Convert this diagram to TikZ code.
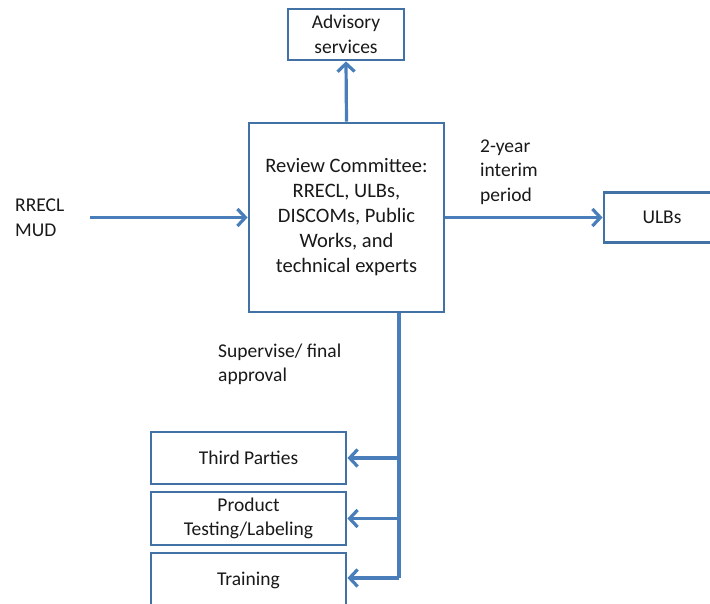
\documentclass[tikz,border=0pt]{standalone}
\usepackage{fontspec}
\setmainfont{Carlito}
\usetikzlibrary{arrows.meta}
\definecolor{boxline}{RGB}{65,113,165}
\definecolor{arrline}{RGB}{74,126,187}
\definecolor{txt}{RGB}{25,25,25}
\begin{document}
\begin{tikzpicture}[x=1pt,y=-1pt,
  every node/.style={font=\fontsize{19.5}{24.5}\selectfont, text=txt},
  box/.style={draw=boxline, line width=2.8pt, fill=white, inner sep=0pt, align=center},
  conn/.style={draw=arrline, line width=3.2pt, -{Straight Barb[length=8pt,width=17pt,line width=3.2pt]}},
  plainconn/.style={draw=arrline, line width=3.2pt},
  lbl/.style={align=left, inner sep=0pt, anchor=west}]
\useasboundingbox (0,0) rectangle (710,604);
\node[box, minimum width=116pt, minimum height=51pt] (adv) at (346,34.5) {Advisory\\services};
\node[box, minimum width=195pt, minimum height=189pt, font=\fontsize{20.5}{25}\selectfont] (main) at (346.5,217.5) {Review Committee:\\RRECL, ULBs,\\DISCOMs, Public\\Works, and\\technical experts};
\node[box, minimum width=116pt, minimum height=50pt] (ulb) at (662,217.5) {ULBs};
\node[box, minimum width=195pt, minimum height=52pt] (third) at (248.5,458) {Third Parties};
\node[box, minimum width=195pt, minimum height=53pt] (prod) at (248.5,518.5) {Product\\Testing/Labeling};
\node[box, minimum width=195pt, minimum height=54pt] (train) at (248.5,580) {Training};
\node[lbl] (src) at (15,217.5) {RRECL\\MUD};
\node[lbl] (per) at (480,172) {2-year\\interim\\period};
\node[lbl] (sup) at (218,364.5) {Supervise/ final\\approval};
\coordinate (in) at (90,217.5);
\coordinate (j1) at (399,458);
\coordinate (j2) at (399,518.5);
\coordinate (j3) at (399,578);
\draw[conn] (main.north) -- (adv.south);
\draw[conn] (in) -- (main.west);
\draw[conn] (main.east) -- (ulb.west);
\draw[plainconn] (j1 |- main.south) -- (j3);
\draw[conn] (j1) -- (third.east);
\draw[conn] (j2) -- (prod.east);
\draw[conn] (j3) -- (train.east |- j3);
\end{tikzpicture}
\end{document}
